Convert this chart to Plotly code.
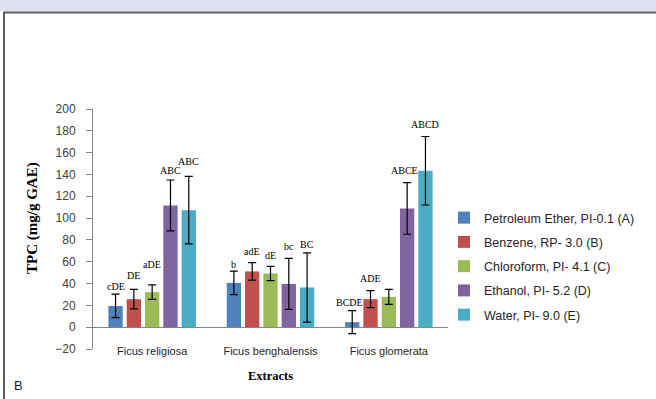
import plotly.graph_objects as go

# ---- data -------------------------------------------------------------
categories = ["Ficus religiosa", "Ficus benghalensis", "Ficus glomerata"]
solvents = [
    "Petroleum Ether, PI-0.1 (A)",
    "Benzene, RP- 3.0 (B)",
    "Chloroform, PI- 4.1 (C)",
    "Ethanol, PI- 5.2 (D)",
    "Water, PI- 9.0 (E)",
]
# mean TPC per solvent, one value per species
tpc_petroleum = [19.5, 40.6, 4.6]
tpc_benzene = [25.7, 51.1, 25.7]
tpc_chloroform = [32.1, 49.2, 27.8]
tpc_ethanol = [111.6, 39.7, 108.9]
tpc_water = [107.3, 36.4, 143.4]
# standard deviations
sd_petroleum = [10.8, 10.7, 10.5]
sd_benzene = [9.0, 8.0, 7.8]
sd_chloroform = [6.7, 6.5, 6.9]
sd_ethanol = [23.3, 23.4, 23.7]
sd_water = [31.0, 31.8, 31.4]
# significance letters above each bar
sig_petroleum = ["cDE", "b", "BCDE"]
sig_benzene = ["DE", "adE", "ADE"]
sig_chloroform = ["aDE", "dE", ""]
sig_ethanol = ["ABC", "bc", "ABCE"]
sig_water = ["ABC", "BC", "ABCD"]
# height (in mg/g GAE) at which each letter group is centred
sig_y_petroleum = [37.0, 57.5, 22.9]
sig_y_benzene = [47.1, 69.1, 44.7]
sig_y_chloroform = [57.5, 65.8, 0]
sig_y_ethanol = [144.0, 73.7, 143.8]
sig_y_water = [152.3, 76.1, 186.2]
y_ticks = list(range(-20, 201, 20))

values = [tpc_petroleum, tpc_benzene, tpc_chloroform, tpc_ethanol, tpc_water]
errors = [sd_petroleum, sd_benzene, sd_chloroform, sd_ethanol, sd_water]
letters = [sig_petroleum, sig_benzene, sig_chloroform, sig_ethanol, sig_water]
letter_y = [sig_y_petroleum, sig_y_benzene, sig_y_chloroform, sig_y_ethanol, sig_y_water]

# ---- style ------------------------------------------------------------
colors = ["#4F81BD", "#C0504D", "#9BBB59", "#8064A2", "#4BACC6"]
W, H = 656, 399
M_L, M_R, M_T, M_B = 93, 208, 109, 50
pitch = 0.1547      # distance between neighbouring bars (category units)
bar_w = 0.121       # bar width (category units)
axis_grey = "#868686"
sans = "Liberation Sans"
serif = "Liberation Serif"
# small horizontal nudges (px) for crowded letter groups, by solvent
letter_nudge = [[0, 0, -3], [0, 0, 0], [0, 0, 0], [0, 0, -3], [0, 0, 0]]


def px_x(px):
    """figure pixel column -> paper x"""
    return (px - M_L) / (W - M_L - M_R)


def px_y(py):
    """figure pixel row (from top) -> paper y"""
    return (H - M_B - py) / (H - M_T - M_B)


fig = go.Figure()
base_x = list(range(len(categories)))
annotations = []
for i, name in enumerate(solvents):
    off = (i - (len(solvents) - 1) / 2) * pitch
    xs = [b + off for b in base_x]
    fig.add_trace(go.Bar(
        x=xs, y=values[i], width=bar_w, name=name,
        marker=dict(color=colors[i], line=dict(width=0)),
        error_y=dict(type="data", array=errors[i], visible=True,
                     color="#000000", thickness=1.2, width=4),
        legendgroup=name,
    ))
    for j, t in enumerate(letters[i]):
        if t:
            annotations.append(dict(
                x=xs[j], y=letter_y[i][j], xref="x", yref="y", text=t,
                showarrow=False, yanchor="middle", xshift=letter_nudge[i][j],
                font=dict(family=serif, size=10, color="#000000"),
            ))

# vertical axis title
annotations.append(dict(
    x=px_x(32), y=px_y(218), xref="paper", yref="paper",
    text="<b>TPC (mg/g GAE)</b>", textangle=-90, showarrow=False,
    xanchor="center", yanchor="middle",
    font=dict(family=serif, size=15, color="#000000"),
))
# panel letter
annotations.append(dict(
    x=px_x(12), y=px_y(385), xref="paper", yref="paper", text="B",
    showarrow=False, xanchor="left", yanchor="middle",
    font=dict(family=sans, size=13, color="#1c1c2c"),
))

shapes = [
    # pale band across the top edge
    dict(type="rect", xref="paper", yref="paper", x0=px_x(0), x1=px_x(W),
         y0=px_y(11), y1=px_y(0), fillcolor="#DDE0EE", line=dict(width=0),
         layer="below"),
    # frame lines
    dict(type="line", xref="paper", yref="paper", x0=px_x(3), x1=px_x(W),
         y0=px_y(12.5), y1=px_y(12.5), line=dict(color="#5c5c5c", width=2)),
    dict(type="line", xref="paper", yref="paper", x0=px_x(4), x1=px_x(4),
         y0=px_y(12), y1=px_y(H), line=dict(color="#5c5c5c", width=2)),
]

fig.update_layout(
    width=W, height=H,
    margin=dict(l=M_L, r=M_R, t=M_T, b=M_B, autoexpand=False),
    paper_bgcolor="white", plot_bgcolor="white",
    barmode="overlay",
    showlegend=True,
    legend=dict(
        x=px_x(444), y=px_y(203), xanchor="left", yanchor="top",
        xref="paper", yref="paper",
        font=dict(family=sans, size=12.5, color="#262626"),
        tracegroupgap=5, bgcolor="rgba(0,0,0,0)", traceorder="grouped",
    ),
    xaxis=dict(
        range=[-0.5, 2.5], tickvals=base_x, ticktext=categories,
        showgrid=False, zeroline=False, showline=False, ticks="",
        tickfont=dict(family=sans, size=11, color="#262626"),
        ticklabelstandoff=-6,
        title=dict(text="<b>Extracts</b>", standoff=15,
                   font=dict(family=serif, size=12.5, color="#000000")),
    ),
    yaxis=dict(
        range=[-20, 200], tickvals=y_ticks,
        showgrid=False, showline=True, linecolor=axis_grey, linewidth=1,
        ticks="outside", ticklen=6, tickcolor=axis_grey, tickwidth=1,
        zeroline=True, zerolinecolor=axis_grey, zerolinewidth=1,
        tickfont=dict(family=sans, size=12, color="#404040"),
        ticklabelstandoff=8,
    ),
    annotations=annotations,
    shapes=shapes,
)

fig.write_html("out.html")
